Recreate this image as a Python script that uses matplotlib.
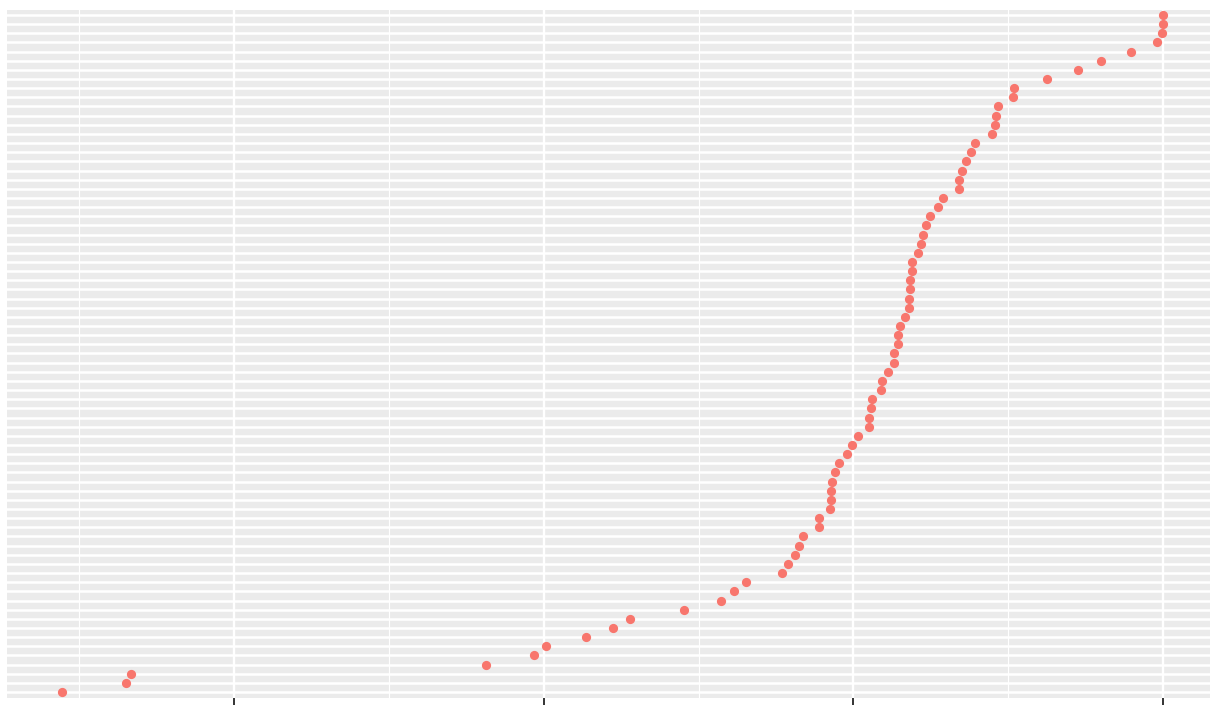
import numpy as np
import matplotlib
matplotlib.use("Agg")
import matplotlib.pyplot as plt
from matplotlib.ticker import MultipleLocator

# values, bottom row first (sorted ascending)
values = [
    11.1, 16.3, 16.7, 45.3, 49.2, 50.2, 53.4, 55.6, 57.0, 61.3,
    64.3, 65.4, 66.3, 69.2, 69.7, 70.3, 70.6, 70.9, 72.2, 72.2,
    73.1, 73.2, 73.2, 73.3, 73.5, 73.8, 74.5, 74.9, 75.4, 76.3,
    76.3, 76.4, 76.5, 77.2, 77.3, 77.8, 78.3, 78.3, 78.6, 78.6,
    78.8, 79.2, 79.5, 79.5, 79.6, 79.6, 79.7, 79.7, 80.2, 80.5,
    80.6, 80.9, 81.2, 81.8, 82.2, 83.5, 83.5, 83.8, 84.1, 84.5,
    84.8, 86.2, 86.4, 86.5, 86.7, 87.9, 88.0, 90.6, 93.1, 95.0,
    97.4, 99.5, 99.9, 100.0, 100.0,
]
categories = [f"item {i + 1:02d}" for i in range(len(values))]
x_ticks = [25, 50, 75, 100]
x_tick_labels = ["25", "50", "75", "100"]

W, H = 1210, 711
fig = plt.figure(figsize=(W / 100, H / 100), dpi=100)
# panel runs slightly past the right edge, tick labels are cut at the bottom
ax = fig.add_axes([7 / W, 1 - 697.5 / H, (1218 - 7) / W, 688 / H])
ax.set_facecolor("#EBEBEB")

y = np.arange(len(categories))
ax.scatter(values, y, s=44, color="#F8766D", linewidths=0, zorder=3)

ax.set_ylim(-0.6, len(categories) - 0.4)
ax.set_yticks(y)
ax.set_yticklabels([])
ax.tick_params(axis="y", length=0)

ax.margins(x=0.05)
ax.set_xticks(x_ticks)
ax.set_xticklabels(x_tick_labels)
ax.xaxis.set_minor_locator(MultipleLocator(12.5))
ax.tick_params(axis="x", which="major", length=5.2, width=1.4, color="#333333",
               labelcolor="#4D4D4D", labelsize=15, pad=6)
ax.tick_params(axis="x", which="minor", length=0)

ax.grid(axis="x", which="major", color="white", linewidth=1.7, zorder=1)
ax.grid(axis="x", which="minor", color="white", linewidth=0.85, zorder=1)
ax.grid(axis="y", which="major", color="white", linewidth=1.8, zorder=1)
ax.set_axisbelow(True)
for s in ax.spines.values():
    s.set_visible(False)

fig.savefig("out.png", dpi=100)
plt.close(fig)
